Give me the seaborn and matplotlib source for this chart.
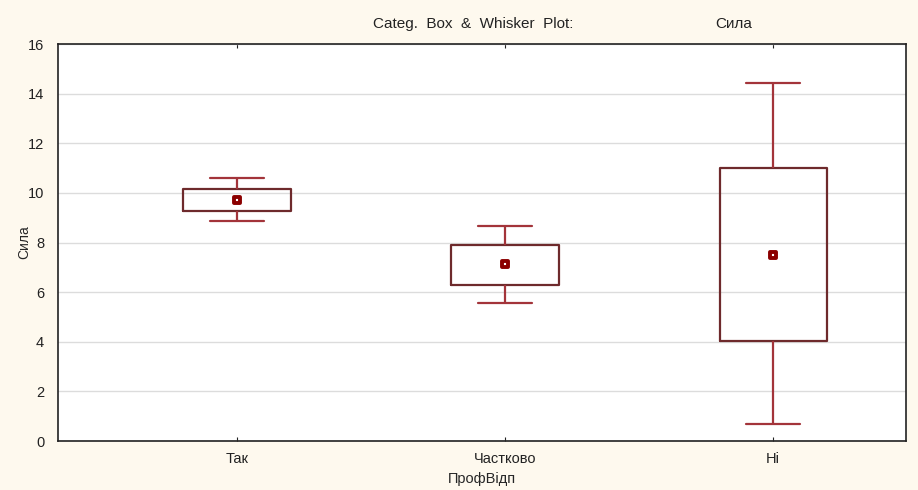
import numpy as np
import pandas as pd
import matplotlib
matplotlib.use("Agg")
import matplotlib.pyplot as plt
import seaborn as sns

# Дані з рисунка (Statistica: середнє, межі коробки, межі вусів)
categories = ["Так", "Частково", "Ні"]
whisker_low = [8.88, 5.55, 0.68]
box_low = [9.28, 6.28, 4.02]
means = [9.70, 7.12, 7.50]
box_high = [10.15, 7.92, 11.02]
whisker_high = [10.60, 8.68, 14.42]

# Набір точок, з яких seaborn отримає ті самі квартилі та мін/макс
rows = []
for i, cat in enumerate(categories):
    for v in [whisker_low[i], box_low[i], means[i], box_high[i], whisker_high[i]]:
        rows.append({"ПрофВідп": cat, "Сила": v})
df = pd.DataFrame(rows)
df_mean = pd.DataFrame({"ПрофВідп": categories, "Сила": means})

sns.set_style("white")
plt.rcParams["font.family"] = ["Liberation Sans", "DejaVu Sans"]

bg = "#fef9ee"
fig = plt.figure(figsize=(9.18, 4.90), dpi=100, facecolor=bg)
ax = fig.add_axes([0.0632, 0.100, 0.9238, 0.810])
ax.set_facecolor("white")

sns.boxplot(data=df, x="ПрофВідп", y="Сила", order=categories, whis=(0, 100),
            width=0.40, ax=ax, fill=False, showfliers=False,
            boxprops=dict(color="#6e2a2c", linewidth=1.6),
            whiskerprops=dict(color="#a3343a", linewidth=1.6),
            capprops=dict(color="#a3343a", linewidth=1.6),
            medianprops=dict(linewidth=0),
            capwidths=0.20)

sns.scatterplot(data=df_mean, x="ПрофВідп", y="Сила", marker="s", s=22,
                color="white", edgecolor="#8b0000", linewidth=2.8, ax=ax, zorder=5)

ax.set_xlim(-0.668, 2.496)
ax.set_ylim(0, 16)
ax.set_yticks(np.arange(0, 17, 2))
ax.yaxis.grid(True, color="#dcdcdc", linewidth=1)
ax.set_axisbelow(True)

for s in ax.spines.values():
    s.set_visible(True)
    s.set_color("#222222")
    s.set_linewidth(1.2)

ax.tick_params(axis="x", direction="in", length=3, top=True, bottom=True,
               labelsize=10.5, pad=8, colors="#222222")
ax.tick_params(axis="y", length=0, labelsize=10.5, pad=10, colors="#222222")

ax.set_xlabel("ПрофВідп", fontsize=10.5, labelpad=4)
ax.set_ylabel("Сила", fontsize=10)
ax.yaxis.set_label_coords(-0.031, 0.5)

fig.text(373 / 918, 0.952, "Categ.  Box  &  Whisker  Plot:", ha="left",
         va="center", fontsize=11, color="#222222")
fig.text(715 / 918, 0.952, "Сила", ha="left",
         va="center", fontsize=11, color="#222222")

fig.savefig("out.png", dpi=100, facecolor=bg)
